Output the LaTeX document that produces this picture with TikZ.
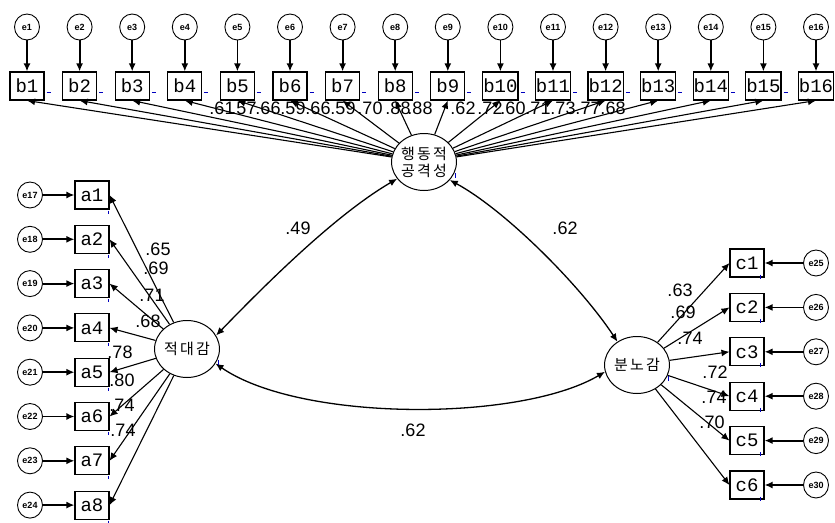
\documentclass[tikz,border=0pt]{standalone}
\usepackage{fontspec}
\setmainfont{Liberation Sans}
\newfontfamily\boxfont{Liberation Mono}
\newfontfamily\kor[LetterSpace=15]{Noto Sans CJK KR}
\usetikzlibrary{arrows.meta,positioning,shapes.geometric}

\begin{document}
\begin{tikzpicture}[x=1pt,y=-1pt,>={Latex[length=8pt,width=7pt]},
  obs/.style={draw,line width=1.1pt,minimum width=34pt,minimum height=28pt,inner sep=.5pt,
    font=\boxfont\fontsize{19}{19}\selectfont},
  err/.style={draw,ellipse,line width=.9pt,minimum width=25pt,minimum height=26pt,inner sep=0pt,
    font=\bfseries\fontsize{9}{9}\selectfont},
  lat/.style={draw,ellipse,line width=1pt,minimum width=64pt,minimum height=57pt,inner sep=0pt,
    align=center,font=\kor\fontsize{15}{17}\selectfont},
  errarr/.style={->,line width=1.8pt},
  load/.style={->,line width=1.1pt},
  cov/.style={<->,line width=1.3pt},
  coef/.style={inner sep=0pt,font=\fontsize{18}{18}\selectfont},
  resid/.style={draw=blue!75!black,line width=1pt}]
\useasboundingbox (0,0) rectangle (835,522);

% latent factors
\node[lat] (beh) at (424,162) {행동적\\공격성};
\node[lat] (hos) at (187,349) {적대감};
\node[lat] (ang) at (637,365) {분노감};

% behavioural aggression indicators
\foreach \i in {1,...,16} {
  \pgfmathsetmacro\xx{27+52.6*(\i-1)}
  \node[obs] (b\i) at (\xx,86) {b\i};
  \node[err] (e\i) at (\xx,27) {e\i};
  \draw[errarr] (e\i) -- (b\i);
  \draw[load] (beh) -- (b\i.south);
  \draw[resid] ([xshift=2pt,yshift=8pt]b\i.south east) -- ++(4,0);
}
\foreach \xx/\v [count=\i] in {222/61,244/57,268/66,293/59,318/66,343/59,370/70,398/88,
    420/88,463/62,490/72,513/60,538/71,563/73,588/77,613/68}
  \node[coef] (lb\i) at (\xx,108) {.\v};

% hostility indicators
\foreach \i [evaluate=\i as \yy using 195+44.3*(\i-1),
             evaluate=\i as \n using int(16+\i)] in {1,...,8} {
  \node[obs] (a\i) at (92,\yy) {a\i};
  \node[err] (e\n) at (30,\yy) {e\n};
  \draw[errarr] (e\n) -- (a\i);
  \draw[load] (hos) -- (a\i.east);
  \draw[resid] ([xshift=-1pt,yshift=-1pt]a\i.south east) -- ++(0,3);
}
\foreach \xx/\yy/\v [count=\i] in {158/249/65,156/268/69,152/295/71,148/321/68,
    120/352/78,122/380/80,122/405/74,123/430/74}
  \node[coef] (la\i) at (\xx,\yy) {.\v};

% anger indicators
\foreach \i [evaluate=\i as \yy using 263+44.4*(\i-1),
             evaluate=\i as \n using int(24+\i)] in {1,...,6} {
  \node[obs] (c\i) at (747,\yy) {c\i};
  \node[err] (e\n) at (816,\yy) {e\n};
  \draw[errarr] (e\n) -- (c\i);
  \draw[load] (ang) -- (c\i.west);
  \draw[resid] ([xshift=-4pt,yshift=3pt]c\i.south east) -- ++(0,4);
}
\foreach \xx/\yy/\v [count=\i] in {680/290/63,683/312/69,690/338/74,715/372/72,
    714/397/74,712/422/70}
  \node[coef] (lc\i) at (\xx,\yy) {.\v};

% covariances
\draw[cov] (hos.25) .. controls (265,285) and (335,215) .. (beh.212);
\draw[cov] (beh.-35) .. controls (505,210) and (580,285) .. (ang.130);
\draw[cov] (hos.-27) .. controls (300,422) and (520,422) .. (ang.192);
\node[coef] (r1) at (298,228) {.49};
\node[coef] (r2) at (565,228) {.62};
\node[coef] (r3) at (413,430) {.62};

\draw[resid] ([xshift=1pt]hos.-20) -- ++(0,5);
\draw[resid] ([xshift=1pt]beh.-20) -- ++(0,5);
\draw[resid] ([xshift=1pt]ang.-20) -- ++(0,5);
\end{tikzpicture}
\end{document}
